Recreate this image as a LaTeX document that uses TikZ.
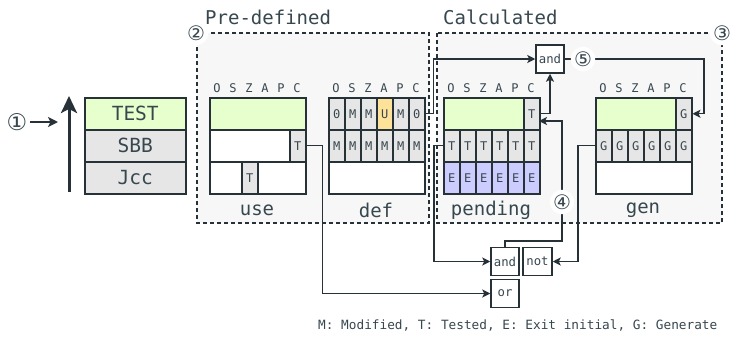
\documentclass[tikz,border=0pt]{standalone}
\usepackage{fontspec}
\setmonofont{DejaVu Sans Mono}
\newfontfamily\circfont{DejaVu Sans}
\usetikzlibrary{arrows.meta,calc}

\definecolor{ink}{HTML}{263238}
\definecolor{txt}{HTML}{37474F}
\definecolor{cellgray}{HTML}{E6E6E6}
\definecolor{flaggreen}{HTML}{E6FFCC}
\definecolor{flagyellow}{HTML}{FFE29A}
\definecolor{flagblue}{HTML}{CCCCFF}
\definecolor{groupbg}{HTML}{F7F7F7}

\tikzset{
  cellbox/.style={draw=ink, line width=1.5pt, minimum width=16pt, minimum height=32pt,
    inner sep=0pt, anchor=north west, text=txt, font=\ttfamily\fontsize{12}{13}\selectfont},
  collabel/.style={text=txt, inner sep=0pt, font=\ttfamily\fontsize{12}{13}\selectfont},
  blocklabel/.style={text=txt, inner sep=0pt, font=\ttfamily\fontsize{19}{20}\selectfont},
  stackbox/.style={draw=ink, line width=1.5pt, minimum width=101pt, minimum height=32pt,
    inner sep=0pt, anchor=north west, text=txt, font=\ttfamily\fontsize{19.5}{20}\selectfont},
  gate/.style={draw=ink, fill=white, line width=1.5pt, minimum width=28pt, minimum height=28pt,
    inner sep=0pt, text=txt, font=\ttfamily\fontsize{12.3}{13}\selectfont},
  group/.style={draw=ink, fill=groupbg, line width=1.3pt, dash pattern=on 4pt off 3pt},
  circnum/.style={circle, fill=white, inner sep=0.4pt, text=txt, font=\circfont\fontsize{20}{20}\selectfont},
  conn/.style={draw=ink, line width=1.4pt, -{Stealth[length=8pt,width=8pt,inset=2pt]}},
}

\begin{document}
\begin{tikzpicture}[x=1pt,y=-1pt]
\useasboundingbox[fill=white] (0,0) rectangle (734,343);

% ---- instruction stack ----
\node[stackbox, fill=flaggreen] (test) at (84,97) {TEST};
\node[stackbox, fill=cellgray] (sbb) at (84,129) {SBB};
\node[stackbox, fill=cellgray] (jcc) at (84,161) {Jcc};
\coordinate (stackBase) at (69,192);
\coordinate (stackTop) at (69,96);
\draw[ink, line width=3pt, -{Stealth[length=17pt,width=16pt,inset=4pt]}] (stackBase) -- (stackTop);
\node[circnum, fill=none, font=\circfont\fontsize{23}{23}\selectfont] (n1) at (17,122) {①};
\coordinate (n1tip) at (58,122);
\draw[ink, line width=2pt, -{Stealth[length=10pt,width=10pt,inset=2.5pt]}] (30,122) -- (n1tip);

% ---- groups ----
\draw[group] (197,33) rectangle (429,223);
\draw[group] (437,33) rectangle (722,223);
\node[blocklabel, anchor=west] (predef) at (205,17) {Pre-defined};
\node[blocklabel, anchor=west] (calc) at (443,17) {Calculated};
\node[circnum] (n2) at (196,33) {②};
\node[circnum] (n3) at (722,33) {③};

% ---- column headers ----
\foreach \bx/\bn in {209/use,328/def,443/pend,595/gen}{
  \foreach \l [count=\i] in {O,S,Z,A,P,C}
    \node[collabel] (\bn-h\i) at ({\bx+8+16*(\i-1)},88) {\l};
}

% ---- use ----
\node[cellbox, fill=flaggreen, minimum width=96pt] (use-r1) at (209,97) {};
\node[cellbox, fill=white, minimum width=80pt] (use-r2) at (209,129) {};
\node[cellbox, fill=cellgray] (use-r2c6) at (289,129) {T};
\node[cellbox, fill=white, minimum width=96pt] (use-r3) at (209,161) {};
\node[cellbox, fill=cellgray] (use-r3c3) at (241,161) {T};
\node[blocklabel] (use-lbl) at (257,210) {use};

% ---- def ----
\foreach \t/\f [count=\i] in {0/cellgray,M/cellgray,M/cellgray,U/flagyellow,M/cellgray,0/cellgray}
  \node[cellbox, fill=\f] (def-r1c\i) at ({328+16*(\i-1)},97) {\t};
\foreach \i in {1,...,6}
  \node[cellbox, fill=cellgray] (def-r2c\i) at ({328+16*(\i-1)},129) {M};
\node[cellbox, fill=white, minimum width=96pt] (def-r3) at (328,161) {};
\node[blocklabel] (def-lbl) at (376,210) {def};

% ---- pending ----
\node[cellbox, fill=flaggreen, minimum width=80pt] (pend-r1) at (443,97) {};
\node[cellbox, fill=cellgray] (pend-r1c6) at (523,97) {T};
\foreach \i in {1,...,6}{
  \node[cellbox, fill=cellgray] (pend-r2c\i) at ({443+16*(\i-1)},129) {T};
  \node[cellbox, fill=flagblue] (pend-r3c\i) at ({443+16*(\i-1)},161) {E};
}
\node[blocklabel] (pend-lbl) at (491,210) {pending};

% ---- gen ----
\node[cellbox, fill=flaggreen, minimum width=80pt] (gen-r1) at (595,97) {};
\node[cellbox, fill=cellgray] (gen-r1c6) at (675,97) {G};
\foreach \i in {1,...,6}
  \node[cellbox, fill=cellgray] (gen-r2c\i) at ({595+16*(\i-1)},129) {G};
\node[cellbox, fill=white, minimum width=96pt] (gen-r3) at (595,161) {};
\node[blocklabel] (gen-lbl) at (643,210) {gen};

% ---- gates ----
\node[gate] (andA) at (550,59) {and};
\node[gate] (andB) at (505,261.5) {and};
\node[gate, minimum width=29pt] (notB) at (537.5,261.5) {not};
\node[gate] (orB) at (505,293.5) {or};

% ---- connectors ----
\draw[conn] (def-r1c6.east) -- ++(8,0) |- (andA.west);
\draw[conn] (pend-r1c6.east) -| (andA.south);
\coordinate (genTurn) at (704,59);
\draw[conn] (andA.east) -- (genTurn) |- (gen-r1c6.east);
\node[circnum] (n5) at (583,59) {⑤};

\draw[conn] (pend-r2c1.west) -- ++(-9,0) |- (andB.west);
\coordinate (loopTurn) at (562,241);
\coordinate (pendIn) at (539,121);
\draw[conn] (andB.north) |- (loopTurn) -- (loopTurn |- pendIn) -- (pendIn);
\node[circnum] (n4) at (562,202) {④};

\draw[conn] (gen-r2c1.west) -- ++(-17,0) |- (notB.east);
\draw[conn] (use-r2c6.east) -- ++(16,0) |- (orB.west);

% ---- legend ----
\node[text=txt, anchor=west, inner sep=0pt, font=\ttfamily\fontsize{12.75}{14}\selectfont] (legend) at (318,326)
  {M: Modified, T: Tested, E: Exit initial, G: Generate};
\end{tikzpicture}
\end{document}
